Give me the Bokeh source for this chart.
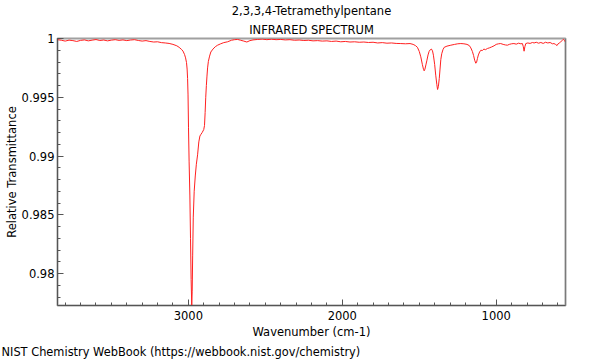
from bokeh.plotting import figure
from bokeh.models import Range1d, SingleIntervalTicker, CustomJSTickFormatter, Span, Title
from bokeh.embed import file_html
from bokeh.resources import INLINE

title_line1 = "2,3,3,4-Tetramethylpentane"
title_line2 = "INFRARED SPECTRUM"
x_label = "Wavenumber (cm-1)"
y_label = "Relative Transmittance"
credit = "NIST Chemistry WebBook (https://webbook.nist.gov/chemistry)"

wavenumber = [
    3850, 3825, 3800, 3775, 3750, 3725, 3700, 3675, 3650, 3625, 3600, 3575, 3550, 3525, 3500,
    3475, 3450, 3425, 3400, 3375, 3350, 3325, 3300, 3275, 3250, 3225, 3200, 3175, 3150, 3125,
    3100, 3075, 3060, 3045, 3035, 3025, 3018, 3012, 3008, 3005, 3002, 2999, 2995, 2990, 2986,
    2982, 2978, 2975, 2972, 2968, 2962, 2955, 2948, 2940, 2932, 2925, 2918, 2910, 2900, 2895,
    2891, 2887, 2883, 2879, 2875, 2870, 2862, 2854, 2840, 2825, 2810, 2790, 2770, 2745, 2720,
    2700, 2680, 2660, 2640, 2620, 2600, 2580, 2550, 2520, 2490, 2460, 2430, 2400, 2370, 2340,
    2310, 2280, 2250, 2220, 2190, 2160, 2130, 2100, 2070, 2040, 2010, 1980, 1950, 1920, 1890,
    1860, 1830, 1800, 1770, 1740, 1710, 1680, 1650, 1620, 1590, 1560, 1540, 1525, 1512, 1500,
    1490, 1480, 1472, 1468, 1463, 1457, 1451, 1443, 1436, 1428, 1421, 1414, 1408, 1400, 1393,
    1386, 1381, 1376, 1370, 1365, 1360, 1354, 1346, 1338, 1320, 1295, 1270, 1250, 1230, 1210,
    1190, 1175, 1165, 1155, 1147, 1140, 1133, 1128, 1122, 1116, 1108, 1100, 1090, 1080, 1070,
    1057, 1045, 1030, 1014, 1000, 985, 971, 955, 940, 927, 915, 900, 885, 870, 855,
    840, 830, 824, 819, 814, 808, 795, 780, 765, 754, 740, 725, 710, 695, 680,
    665, 650, 635, 625, 615, 605, 598, 590, 581, 570, 563, 558, 552,
]

transmittance = [
    0.99990, 0.99985, 0.99978, 0.99986, 0.99982, 0.99975, 0.99984, 0.99988, 0.99980, 0.99986, 0.99991, 0.99983, 0.99987, 0.99980, 0.99986,
    0.99990, 0.99984, 0.99988, 0.99982, 0.99987, 0.99990, 0.99983, 0.99978, 0.99982, 0.99975, 0.99970, 0.99972, 0.99965, 0.99962, 0.99958,
    0.99950, 0.99938, 0.99925, 0.99908, 0.99893, 0.99865, 0.99835, 0.99795, 0.99740, 0.99660, 0.99520, 0.99240, 0.98950, 0.98660, 0.98300,
    0.97950, 0.97728, 0.97850, 0.98150, 0.98480, 0.98700, 0.98830, 0.98930, 0.99010, 0.99120, 0.99170, 0.99185, 0.99200, 0.99225, 0.99260,
    0.99370, 0.99500, 0.99600, 0.99680, 0.99750, 0.99805, 0.99850, 0.99885, 0.99910, 0.99930, 0.99943, 0.99955, 0.99965, 0.99972, 0.99985,
    0.99990, 0.99992, 0.99985, 0.99978, 0.99970, 0.99982, 0.99988, 0.99992, 0.99995, 0.99990, 0.99994, 0.99990, 0.99992, 0.99988, 0.99990,
    0.99985, 0.99987, 0.99983, 0.99985, 0.99980, 0.99982, 0.99978, 0.99980, 0.99975, 0.99978, 0.99972, 0.99975, 0.99970, 0.99972, 0.99968,
    0.99970, 0.99966, 0.99968, 0.99962, 0.99965, 0.99960, 0.99962, 0.99958, 0.99957, 0.99955, 0.99957, 0.99950, 0.99940, 0.99925, 0.99890,
    0.99844, 0.99780, 0.99735, 0.99725, 0.99740, 0.99775, 0.99810, 0.99860, 0.99890, 0.99905, 0.99910, 0.99895, 0.99858, 0.99780, 0.99688,
    0.99610, 0.99566, 0.99590, 0.99660, 0.99740, 0.99820, 0.99870, 0.99905, 0.99925, 0.99935, 0.99943, 0.99950, 0.99955, 0.99957, 0.99955,
    0.99950, 0.99940, 0.99920, 0.99890, 0.99855, 0.99815, 0.99790, 0.99795, 0.99830, 0.99860, 0.99885, 0.99900, 0.99898, 0.99910, 0.99905,
    0.99915, 0.99920, 0.99928, 0.99938, 0.99950, 0.99955, 0.99957, 0.99950, 0.99945, 0.99943, 0.99950, 0.99955, 0.99957, 0.99952, 0.99960,
    0.99955, 0.99957, 0.99930, 0.99892, 0.99930, 0.99957, 0.99962, 0.99958, 0.99966, 0.99962, 0.99968, 0.99960, 0.99966, 0.99958, 0.99968,
    0.99962, 0.99966, 0.99955, 0.99957, 0.99950, 0.99940, 0.99955, 0.99962, 0.99972, 0.99985, 0.99994, 0.99985, 0.99972,
]

x_start, x_end = 3850, 550
y_start, y_end = 0.97728, 1.0

FONT = "DejaVu Sans"
FS = "11.5px"

p = figure(width=600, height=360, output_backend="svg", toolbar_location=None,
           x_range=Range1d(x_start, x_end), y_range=Range1d(y_start, y_end),
           min_border_left=57, min_border_right=35, min_border_top=7, min_border_bottom=1)

p.line(wavenumber, transmittance, line_color="#ff2020", line_width=1)

p.xgrid.visible = False
p.ygrid.visible = False
p.background_fill_color = "white"
p.border_fill_color = "white"
p.outline_line_color = "#a0a0a0"
p.outline_line_width = 2

p.xaxis.ticker = SingleIntervalTicker(interval=1000, num_minor_ticks=10)
p.yaxis.ticker = SingleIntervalTicker(interval=0.005, num_minor_ticks=5)
p.yaxis.formatter = CustomJSTickFormatter(code="return (Math.round(tick*1000)/1000).toString();")

for ax in (p.xaxis[0], p.yaxis[0]):
    ax.axis_line_color = "#555555"
    ax.major_tick_line_color = "#555555"
    ax.minor_tick_line_color = "#555555"
    ax.major_tick_in = 6
    ax.major_tick_out = 0
    ax.minor_tick_in = 3
    ax.minor_tick_out = 0
    ax.major_label_text_font = FONT
    ax.major_label_text_font_size = FS
    ax.major_label_text_color = "black"
    ax.axis_label_text_font = FONT
    ax.axis_label_text_font_size = FS
    ax.axis_label_text_font_style = "normal"
    ax.axis_label_text_color = "black"
p.xaxis.major_label_standoff = 5
p.yaxis.major_label_standoff = 3
p.xaxis.axis_label = x_label
p.yaxis.axis_label = y_label
p.xaxis.axis_label_standoff = 2
p.yaxis.axis_label_standoff = 0

p.add_layout(Span(location=x_end, dimension="height", line_color="#555555", line_width=1))

p.title.visible = False
p.add_layout(Title(text=title_line2, align="center", text_font=FONT, text_font_size=FS,
                   text_font_style="normal", text_color="black", standoff=3), "above")
p.add_layout(Title(text=title_line1, align="center", text_font=FONT, text_font_size=FS,
                   text_font_style="normal", text_color="black", standoff=3), "above")
p.add_layout(Title(text=credit, align="left", offset=-56, text_font=FONT, text_font_size="11.4px",
                   text_font_style="normal", text_color="black", standoff=3), "below")

open("out.html", "w").write(file_html(p, INLINE))
